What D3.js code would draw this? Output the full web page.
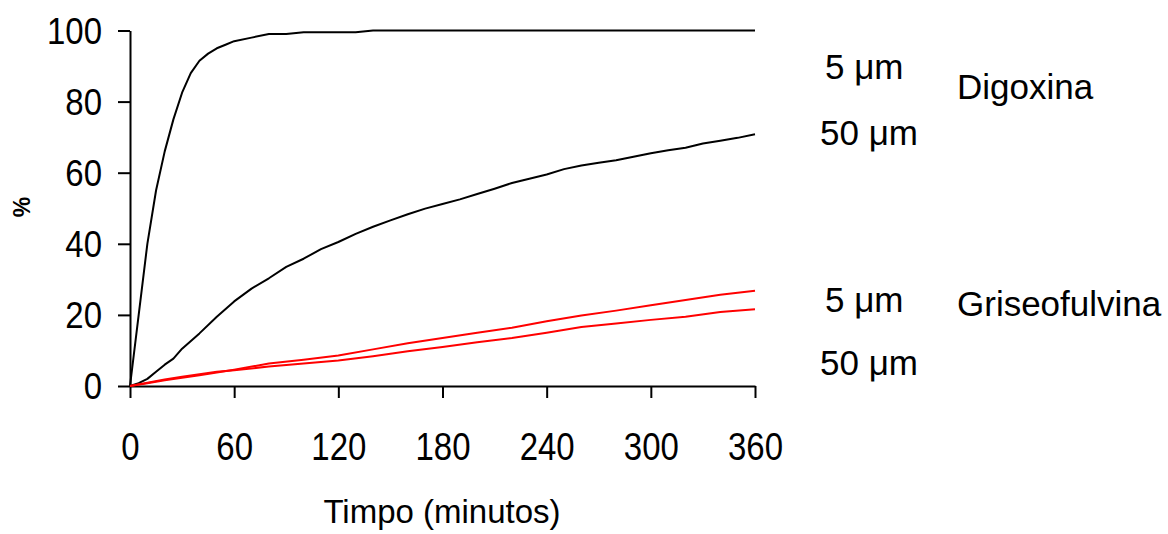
<!DOCTYPE html>
<html>
<head>
<meta charset="utf-8">
<script src="https://cdn.jsdelivr.net/npm/d3@7"></script>
<style>
  html, body { margin: 0; padding: 0; background: #fff; }
  svg { display: block; }
  text { font-family: Arial, "Liberation Sans", sans-serif; fill: #000; }
</style>
</head>
<body>
<svg id="chart" width="1168" height="534"></svg>
<script>
// ---- data ----
const xTicks = [0, 60, 120, 180, 240, 300, 360];
const yTicks = [0, 20, 40, 60, 80, 100];

const digoxina5Time = [0, 5, 10, 15, 20, 25, 30, 35, 40, 45, 50, 55, 60, 70, 80, 90, 100, 120, 130, 140, 200, 260, 360];
const digoxina5Val  = [0, 20, 40, 55, 66, 75, 82.5, 88, 91.5, 93.5, 95, 96, 97, 98, 99, 99, 99.5, 99.5, 99.5, 100, 100, 100, 100];

const digoxina50Time = [0, 5, 10, 15, 20, 25, 30, 40, 50, 60, 70, 80, 90, 100, 110, 120, 130, 140, 150, 160, 170, 180, 190, 200, 210, 220, 230, 240, 250, 260, 270, 280, 290, 300, 310, 320, 330, 340, 350, 360];
const digoxina50Val  = [0, 0.8, 2, 4, 6, 7.7, 10.5, 14.8, 19.5, 23.8, 27.4, 30.3, 33.5, 35.8, 38.5, 40.5, 42.8, 44.8, 46.6, 48.3, 49.9, 51.2, 52.5, 54, 55.5, 57.1, 58.3, 59.5, 61, 62, 62.8, 63.5, 64.5, 65.5, 66.3, 67, 68.2, 69, 69.8, 70.8];

const griseo5Time = [0, 10, 20, 30, 40, 50, 60, 80, 100, 120, 140, 160, 180, 200, 220, 240, 260, 280, 300, 320, 340, 360];
const griseo5Val  = [0, 0.8, 1.6, 2.3, 3.0, 3.8, 4.6, 6.3, 7.4, 8.6, 10.3, 12.0, 13.5, 15.0, 16.4, 18.2, 19.8, 21.2, 22.7, 24.2, 25.7, 26.8];

const griseo50Time = [0, 10, 20, 30, 40, 50, 60, 80, 100, 120, 140, 160, 180, 200, 220, 240, 260, 280, 300, 320, 340, 360];
const griseo50Val  = [0, 0.9, 1.8, 2.6, 3.3, 4.0, 4.4, 5.5, 6.3, 7.2, 8.4, 9.8, 11.0, 12.3, 13.5, 15.0, 16.6, 17.6, 18.6, 19.5, 20.8, 21.6];

const seriesNames  = ["Digoxina 5 µm", "Digoxina 50 µm", "Griseofulvina 5 µm", "Griseofulvina 50 µm"];
const seriesColors = ["#000000", "#000000", "#ff0000", "#ff0000"];

const sizeLabels = ["5 \u03bcm", "50 \u03bcm", "5 \u03bcm", "50 \u03bcm"];
const drugLabels = ["Digoxina", "Griseofulvina"];
const xTitle = "Timpo (minutos)";
const yTitle = "%";

// ---- layout ----
const svg = d3.select("#chart");
const x = d3.scaleLinear().domain([0, 360]).range([130, 755]);
const y = d3.scaleLinear().domain([0, 100]).range([386, 30.5]);

const series = [
  digoxina5Time.map((t, i) => [t, digoxina5Val[i]]),
  digoxina50Time.map((t, i) => [t, digoxina50Val[i]]),
  griseo5Time.map((t, i) => [t, griseo5Val[i]]),
  griseo50Time.map((t, i) => [t, griseo50Val[i]])
];

// axes
const yAxis = d3.axisLeft(y).tickValues(yTicks).tickSize(12).tickSizeOuter(0);
const gy = svg.append("g").attr("transform", "translate(130,0)").call(yAxis);
gy.selectAll("path, line").attr("stroke", "#000").attr("stroke-width", 2);
gy.selectAll("text").remove();
gy.selectAll(".tick").append("text")
  .attr("text-anchor", "end")
  .attr("font-size", 33)
  .attr("transform", "translate(-28,12.5) scale(1,1.1)")
  .text(d => d);

const xAxis = d3.axisBottom(x).tickValues(xTicks).tickSize(12).tickSizeOuter(0).tickFormat(d3.format("d"));
const gx = svg.append("g").attr("transform", "translate(0,386)").call(xAxis);
gx.selectAll("path, line").attr("stroke", "#000").attr("stroke-width", 2);
gx.selectAll("text").remove();
gx.selectAll(".tick").append("text")
  .attr("text-anchor", "middle")
  .attr("font-size", 33)
  .attr("transform", "translate(0,74) scale(1,1.2)")
  .text(d => d);

// lines
const line = d3.line().x(d => x(d[0])).y(d => y(d[1]));
svg.append("g").selectAll("path")
  .data(series)
  .join("path")
  .attr("d", line)
  .attr("fill", "none")
  .attr("stroke", (d, i) => seriesColors[i])
  .attr("stroke-width", 2)
  .attr("stroke-linejoin", "round");

// axis titles
svg.append("text")
  .attr("x", 442).attr("y", 523)
  .attr("text-anchor", "middle")
  .attr("font-size", 33)
  .text(xTitle);

svg.append("text")
  .attr("transform", "translate(30,207) rotate(-90)")
  .attr("text-anchor", "middle")
  .attr("font-size", 23)
  .attr("font-weight", "bold")
  .text(yTitle);

// right-side labels
const sizePos = [[825, 79], [820, 145], [825, 311.5], [820, 375]];
svg.append("g").selectAll("text")
  .data(sizeLabels)
  .join("text")
  .attr("x", (d, i) => sizePos[i][0])
  .attr("y", (d, i) => sizePos[i][1])
  .attr("font-size", 35)
  .text(d => d);

const drugPos = [[957, 99], [957, 316]];
svg.append("g").selectAll("text")
  .data(drugLabels)
  .join("text")
  .attr("x", (d, i) => drugPos[i][0])
  .attr("y", (d, i) => drugPos[i][1])
  .attr("font-size", 35)
  .text(d => d);
</script>
</body>
</html>
